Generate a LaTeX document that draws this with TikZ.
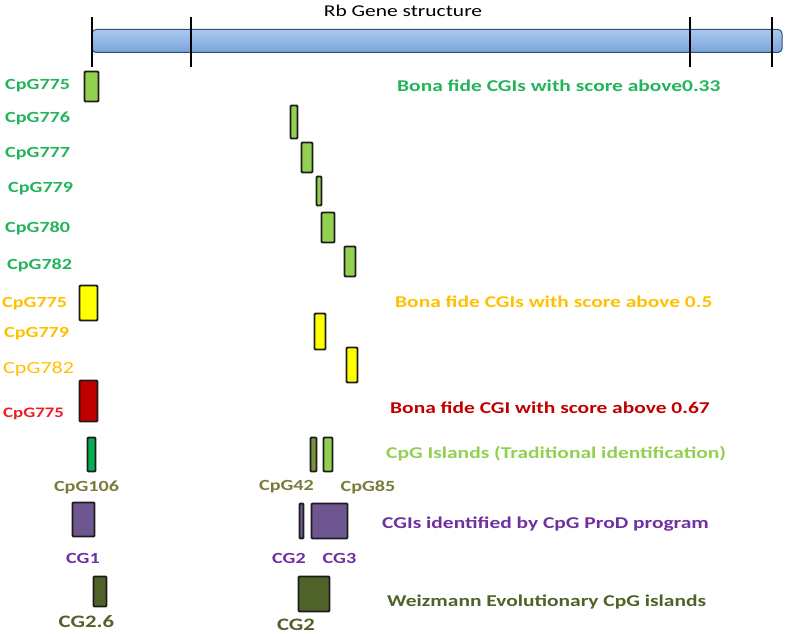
\documentclass[tikz,border=0pt]{standalone}
\usepackage{fontspec}
\setmainfont{Carlito}[FakeStretch=1.3]
\usetikzlibrary{positioning}
\definecolor{genetop}{HTML}{A9C8F0}
\definecolor{genebot}{HTML}{7BA3D8}
\definecolor{generim}{HTML}{2F4F78}
\definecolor{islink}{HTML}{1C1C1C}
\definecolor{cgigreen}{HTML}{22B45A}
\definecolor{cgilime}{HTML}{92D050}
\definecolor{cgigold}{HTML}{FFC000}
\definecolor{cgiyellow}{HTML}{FFFF00}
\definecolor{cgired}{HTML}{EE1C25}
\definecolor{cgidark}{HTML}{C00000}
\definecolor{cgibox}{HTML}{00B050}
\definecolor{cgimoss}{HTML}{77933C}
\definecolor{cgiolive}{HTML}{7A7A3C}
\definecolor{cgipurple}{HTML}{7030A0}
\definecolor{cgiviolet}{HTML}{6E5790}
\definecolor{cgiforest}{HTML}{4F6228}
\tikzset{
  isl/.style={draw=islink, line width=1.8pt, rounded corners=1pt, inner sep=0pt},
  lime/.style={isl, fill=cgilime},
  yel/.style={isl, fill=cgiyellow},
  rd/.style={isl, fill=cgidark},
  pur/.style={isl, fill=cgiviolet},
  fst/.style={isl, fill=cgiforest},
  genebar/.style={draw=generim, line width=1pt, top color=genetop, bottom color=genebot, rounded corners=4pt, inner sep=0pt},
  tick/.style={line width=2.2pt, black},
  lab/.style={font=\bfseries\fontsize{15.5}{18}\selectfont, anchor=west, inner sep=0pt},
  key/.style={font=\bfseries\fontsize{16.5}{19}\selectfont, anchor=west, inner sep=0pt},
}
\begin{document}
\begin{tikzpicture}[x=1pt, y=-1pt]
  \useasboundingbox (0,0) rectangle (787,634);
  % gene
  \node[font=\fontsize{16.5}{19}\selectfont] (title) at (403,11) {Rb Gene structure};
  \node[genebar, minimum width=690, minimum height=23] (gene) at (437,41) {};
  \foreach \t in {92,191,690,772} \draw[tick] (\t,17) -- (\t,67);
  % score above 0.33
  \foreach \n/\x/\y/\w/\h in {775/91.5/86.5/14/30, 776/294/122/7/33, 777/307/157.5/11/30,
      779/319/191/5/29, 780/328/227.5/13/30, 782/350/261.5/11/30}
    \node[lime, minimum width=\w, minimum height=\h] (g\n) at (\x,\y) {};
  \foreach \n/\x/\y in {775/5/86, 776/5/118, 777/5/154, 779/8/189, 780/5/228, 782/7/265}
    \node[lab, text=cgigreen] (lg\n) at (\x,\y) {CpG\n};
  \node[key, text=cgigreen] (kg) at (397,86) {Bona fide CGIs with score above0.33};
  % score above 0.5
  \node[yel, minimum width=18, minimum height=35] (y775) at (88.5,303) {};
  \node[yel, minimum width=11, minimum height=36] (y779) at (320,331.5) {};
  \node[yel, minimum width=11, minimum height=35] (y782) at (352,365) {};
  \node[lab, text=cgigold] (ly775) at (2,304) {CpG775};
  \node[lab, text=cgigold] (ly779) at (4,334) {CpG779};
  \node[lab, text=cgigold, font=\fontsize{17}{19}\selectfont] (ly782) at (3,369) {CpG782};
  \node[key, text=cgigold] (ky) at (395,302) {Bona fide CGIs with score above 0.5};
  % score above 0.67
  \node[rd, minimum width=18, minimum height=41] (r775) at (88.5,401) {};
  \node[lab, text=cgired, font=\bfseries\fontsize{14.5}{16}\selectfont] (lr775) at (3,414) {CpG775};
  \node[key, text=cgidark] (kr) at (390,408) {Bona fide CGI with score above 0.67};
  % traditional
  \node[isl, fill=cgibox, minimum width=8, minimum height=34] (t106) at (91.5,454.5) {};
  \node[isl, fill=cgimoss, minimum width=6, minimum height=34] (t42) at (313.5,454.5) {};
  \node[lime, minimum width=9, minimum height=34] (t85) at (328,454.5) {};
  \node[lab, text=cgiolive, anchor=center] (lt106) at (86.5,487) {CpG106};
  \node[lab, text=cgiolive, anchor=center] (lt42) at (286.5,487) {CpG42};
  \node[lab, text=cgiolive, anchor=center] (lt85) at (368,487) {CpG85};
  \node[key, text=cgilime] (kt) at (386,454) {CpG Islands (Traditional identification)};
  % CpG ProD
  \node[pur, minimum width=22, minimum height=34] (p1) at (83.5,519.5) {};
  \node[pur, minimum width=4, minimum height=35] (p2) at (301.5,521) {};
  \node[pur, minimum width=36, minimum height=35] (p3) at (329.5,521) {};
  \node[lab, text=cgipurple, anchor=center] (lp1) at (83,558) {CG1};
  \node[lab, text=cgipurple, anchor=center] (lp2) at (289,558) {CG2};
  \node[lab, text=cgipurple, anchor=center] (lp3) at (339.5,558) {CG3};
  \node[key, text=cgipurple] (kp) at (382,524) {CGIs identified by CpG ProD program};
  % Weizmann
  \node[fst, minimum width=13, minimum height=30] (w26) at (100,591.5) {};
  \node[fst, minimum width=31, minimum height=35] (w2) at (314,594) {};
  \node[lab, text=cgiforest, anchor=center, font=\bfseries\fontsize{17.5}{20}\selectfont] (lw26) at (86.5,622) {CG2.6};
  \node[lab, text=cgiforest, anchor=center, font=\bfseries\fontsize{17.5}{20}\selectfont] (lw2) at (296,625) {CG2};
  \node[key, text=cgiforest] (kw) at (387,602) {Weizmann Evolutionary CpG islands};
\end{tikzpicture}
\end{document}
